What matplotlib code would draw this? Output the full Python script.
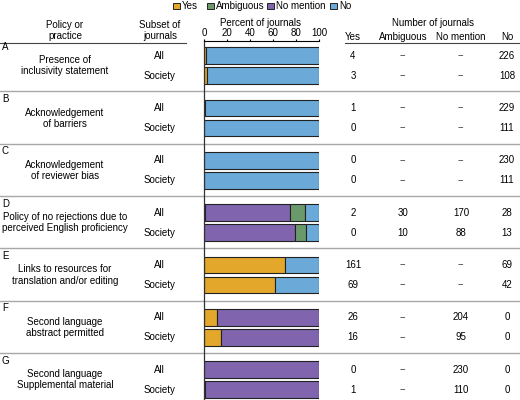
import matplotlib
matplotlib.use("Agg")
import matplotlib.pyplot as plt
from matplotlib.patches import Rectangle

plt.rcParams["font.family"] = ["Liberation Sans", "DejaVu Sans"]
plt.rcParams["font.size"] = 7

# ---- data ----
letters = ["A", "B", "C", "D", "E", "F", "G"]
policies = [
    "Presence of\ninclusivity statement",
    "Acknowledgement\nof barriers",
    "Acknowledgement\nof reviewer bias",
    "Policy of no rejections due to\nperceived English proficiency",
    "Links to resources for\ntranslation and/or editing",
    "Second language\nabstract permitted",
    "Second language\nSupplemental material",
]
subsets = ["All", "Society"]
categories = ["Yes", "Ambiguous", "No mention", "No"]

# None means "--" (not assessed)
yes_all = [4, 1, 0, 2, 161, 26, 0]
amb_all = [None, None, None, 30, None, None, None]
nom_all = [None, None, None, 170, None, 204, 230]
no_all = [226, 229, 230, 28, 69, 0, 0]

yes_soc = [3, 0, 0, 0, 69, 16, 1]
amb_soc = [None, None, None, 10, None, None, None]
nom_soc = [None, None, None, 88, None, 95, 110]
no_soc = [108, 111, 111, 13, 42, 0, 0]

colors = ["#E3A82B", "#6A9A6C", "#8064AE", "#6BAAD8"]
# order of the segments inside a bar: Yes, No mention, Ambiguous, No
stack_order = [0, 2, 1, 3]

# ---- layout (pixel units, 520x400) ----
W, H = 520, 400
sec_h = 52.3
row0 = 55.8
row_gap = 20.0
bar_h = 16.7
ax_left, ax_right, ax_top = 204, 319, 41
num_x = [353, 403, 461, 507]

fig = plt.figure(figsize=(W / 100, H / 100), dpi=100)

tab = fig.add_axes([0, 0, 1, 1])
tab.set_xlim(0, W)
tab.set_ylim(H, 0)
tab.axis("off")

ax = fig.add_axes([ax_left / W, 0, (ax_right - ax_left) / W, (H - ax_top) / H])
ax.patch.set_alpha(0)
ax.set_xlim(0, 100)
ax.set_ylim(H, ax_top)

all_counts = [yes_all, amb_all, nom_all, no_all]
soc_counts = [yes_soc, amb_soc, nom_soc, no_soc]

for k in range(len(letters)):
    y_all = row0 + sec_h * k
    for j, counts in enumerate([all_counts, soc_counts]):
        y = y_all + j * row_gap
        vals = [c[k] if c[k] is not None else 0 for c in counts]
        total = sum(vals)
        left = 0
        for i in stack_order:
            pct = 100.0 * vals[i] / total
            if pct > 0:
                ax.barh(y, pct, left=left, height=bar_h, color=colors[i],
                        edgecolor="#222222", linewidth=0.8)
            left += pct
        tab.text(159, y, subsets[j], ha="center", va="center")
        for x, c in zip(num_x, counts):
            if c[k] is None:
                tab.text(x, y, "--", ha="center", va="center", fontsize=6.5,
                         family="DejaVu Sans", color="#333333")
            else:
                tab.text(x, y, str(c[k]), ha="center", va="center")
    tab.text(2, y_all - 9, letters[k], ha="left", va="center")
    tab.text(65, y_all + row_gap / 2, policies[k], ha="center", va="center",
             linespacing=1.15)
    if k < len(letters) - 1:
        ys = y_all + row_gap + 15.5
        tab.plot([0, W], [ys, ys], color="#A8A8A8", linewidth=1.0)

# bar axis styling
ax.xaxis.tick_top()
ax.set_xticks([0, 20, 40, 60, 80, 100])
ax.tick_params(axis="x", direction="out", length=1.5, width=0.8, pad=0.5, labelsize=7)
ax.set_yticks([])
for s in ["right", "bottom"]:
    ax.spines[s].set_visible(False)
ax.spines["top"].set_linewidth(0.8)
ax.spines["left"].set_linewidth(0.9)
ax.spines["left"].set_color("#333333")

# headers
tab.text(65, 30.5, "Policy or\npractice", ha="center", va="center", linespacing=1.15)
tab.text(160, 30.5, "Subset of\njournals", ha="center", va="center", linespacing=1.15)
tab.text(261, 22.5, "Percent of journals", ha="center", va="center")
tab.text(433, 23.5, "Number of journals", ha="center", va="center")
for x, c in zip(num_x, categories):
    tab.text(x, 37, c, ha="center", va="center")
tab.plot([0, 186], [43, 43], color="#444444", linewidth=0.8)
tab.plot([345, W], [43, 43], color="#444444", linewidth=0.8)

# legend
leg_x = [173, 207, 267, 330]
for x, c, col in zip(leg_x, categories, colors):
    tab.add_patch(Rectangle((x, 2.5), 6.5, 6.5, facecolor=col,
                            edgecolor="#222222", linewidth=0.7))
    tab.text(x + 9, 6, c, ha="left", va="center")

fig.savefig("out.png", dpi=100)
